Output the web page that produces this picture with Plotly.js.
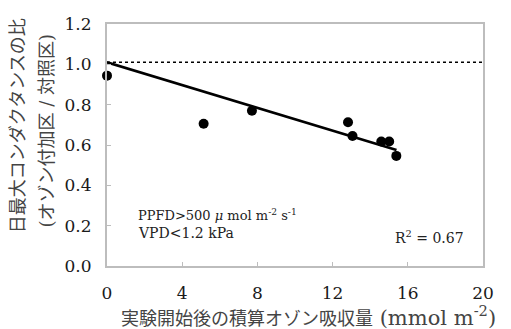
<!DOCTYPE html>
<html>
<head>
<meta charset="utf-8">
<script src="https://cdn.plot.ly/plotly-3.0.1.min.js"></script>
<style>html,body{margin:0;padding:0;background:#fff;}#chart{width:511px;height:329px;}</style>
</head>
<body>
<div id="chart"></div>
<script>
// Data
const ozoneUptake = [0, 5.14, 7.71, 12.82, 13.06, 14.59, 15.01, 15.39];
const conductanceRatio = [0.944, 0.705, 0.77, 0.713, 0.645, 0.617, 0.617, 0.546];
const fitX = [0, 15.4];
const fitY = [1.01, 0.575];
const refX = [0, 20];
const refY = [1.01, 1.01];
const xTicks = [0, 4, 8, 12, 16, 20];
const yTicks = [0.0, 0.2, 0.4, 0.6, 0.8, 1.0, 1.2];
const yTickLabels = ['0.0', '0.2', '0.4', '0.6', '0.8', '1.0', '1.2'];

const serif = 'DejaVu Serif, Noto Sans CJK JP, serif';
const mixed = 'DejaVu Serif, Noto Sans CJK JP, sans-serif';

const traces = [
  {x: refX, y: refY, mode: 'lines', line: {color: '#000', width: 1.5, dash: 'dot'}, hoverinfo: 'skip', cliponaxis: false},
  {x: fitX, y: fitY, mode: 'lines', line: {color: '#000', width: 2.5}, hoverinfo: 'skip', cliponaxis: false},
  {x: ozoneUptake, y: conductanceRatio, mode: 'markers', marker: {color: '#000', size: 10}, cliponaxis: false}
];

const axisCommon = {
  showline: true, mirror: true, linecolor: '#bdbdbd', linewidth: 2,
  ticks: 'inside', ticklen: 4, tickcolor: '#bdbdbd', tickwidth: 1,
  showgrid: false, zeroline: false, fixedrange: true,
  tickfont: {family: serif, size: 17, color: '#1a1a1a'}
};

const layout = {
  width: 511, height: 329,
  margin: {l: 107, r: 28, t: 24, b: 63},
  paper_bgcolor: '#fff', plot_bgcolor: '#fff',
  showlegend: false,
  xaxis: Object.assign({}, axisCommon, {range: [0, 20], tickvals: xTicks, ticklabelstandoff: 11}),
  yaxis: Object.assign({}, axisCommon, {range: [0, 1.2], tickvals: yTicks, ticktext: yTickLabels, ticklabelstandoff: 10}),
  annotations: [
    {xref: 'paper', yref: 'paper', x: -0.238, y: 0.58, textangle: -90, showarrow: false,
     xanchor: 'center', yanchor: 'middle', text: '日最大コンダクタンスの比',
     font: {family: mixed, size: 18, color: '#444'}},
    {xref: 'paper', yref: 'paper', x: -0.162, y: 0.56, textangle: -90, showarrow: false,
     xanchor: 'center', yanchor: 'middle', text: '(オゾン付加区 / 対照区)',
     font: {family: mixed, size: 18, color: '#444'}},
    {xref: 'paper', yref: 'paper', x: 0.535, y: -0.205, showarrow: false,
     xanchor: 'center', yanchor: 'middle',
     text: '実験開始後の積算オゾン吸収量<span style="font-size:21px"> (mmol m<sup>-2</sup>)</span>',
     font: {family: mixed, size: 18, color: '#444'}},
    {xref: 'paper', yref: 'paper', x: 0.078, y: 0.21, showarrow: false,
     xanchor: 'left', yanchor: 'middle', text: 'PPFD>500 <i>μ</i> mol m<sup>-2</sup> s<sup>-1</sup>',
     font: {family: serif, size: 13, color: '#222'}},
    {xref: 'paper', yref: 'paper', x: 0.078, y: 0.135, showarrow: false,
     xanchor: 'left', yanchor: 'middle', text: 'VPD<1.2 kPa',
     font: {family: serif, size: 14, color: '#222'}},
    {xref: 'paper', yref: 'paper', x: 0.955, y: 0.12, showarrow: false,
     xanchor: 'right', yanchor: 'middle', text: 'R<sup>2</sup> = 0.67',
     font: {family: serif, size: 14, color: '#222'}}
  ]
};

Plotly.newPlot('chart', traces, layout, {displayModeBar: false, staticPlot: true});
</script>
</body>
</html>
